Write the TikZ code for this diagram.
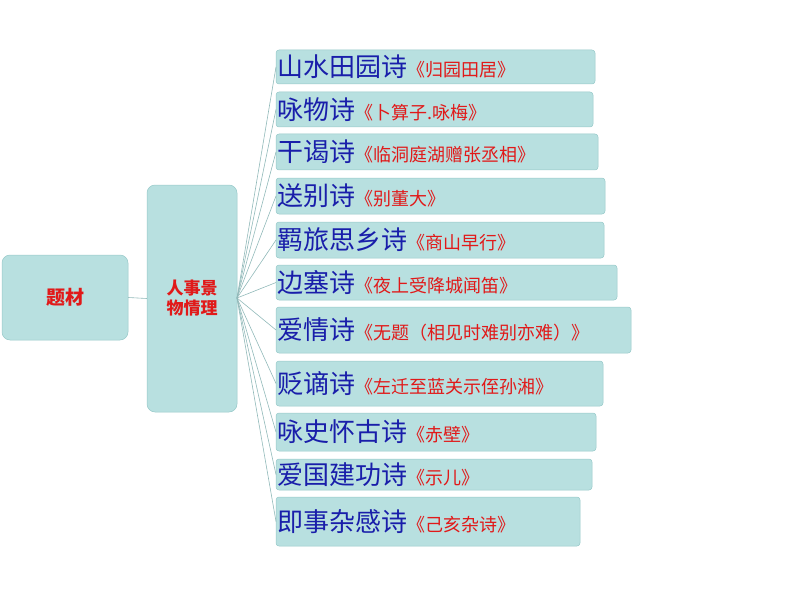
\documentclass[tikz,border=0pt]{standalone}
\usepackage{fontspec}
\setmainfont{Noto Sans CJK SC}
\definecolor{boxfill}{RGB}{184,224,224}
\definecolor{boxline}{RGB}{150,200,200}
\definecolor{tblue}{RGB}{25,30,170}
\definecolor{tred}{RGB}{225,25,25}
\begin{document}
\begin{tikzpicture}[x=1pt,y=-1pt,
  bx/.style={fill=boxfill,draw=boxline,line width=0.5pt,rounded corners=3pt},
  conn/.style={draw=boxline!80!gray,line width=0.6pt}]
\useasboundingbox (0,0) rectangle (794,596);
\node[bx,minimum width=126pt,minimum height=85pt,font=\bfseries\fontsize{19}{22}\selectfont,text=tred,rounded corners=8pt] (a) at (65,297.5) {题材};
\node[bx,minimum width=90pt,minimum height=227pt,font=\bfseries\fontsize{17}{20}\selectfont,text=tred,align=center,rounded corners=8pt] (b) at (192,298.5) {人事景\\物情理};
\draw[conn] (a.east) -- (b.west);
\foreach \i/\t/\bt/\r/\m/\s in {
 1/50/84/595/山水田园诗/归园田居,
 2/92/127/593/咏物诗/卜算子.咏梅,
 3/134/170/598/干谒诗/临洞庭湖赠张丞相,
 4/178/214/605/送别诗/别董大,
 5/222/258/604/羁旅思乡诗/商山早行,
 6/265/300/617/边塞诗/夜上受降城闻笛,
 7/307/353/631/爱情诗/无题（相见时难别亦难）,
 8/361/406/603/贬谪诗/左迁至蓝关示侄孙湘,
 9/413/451/596/咏史怀古诗/赤壁,
 10/459/490/592/爱国建功诗/示儿,
 11/497/546/580/即事杂感诗/己亥杂诗}{
  \path[bx] (276,\t) rectangle (\r,\bt);
  \node[anchor=west,inner sep=0pt] (n\i) at (277,{(\t+\bt)/2}) {\textcolor{tblue}{\fontsize{26}{28}\selectfont\m}\textcolor{tred}{\fontsize{18}{20}\selectfont《\s》}};
  \coordinate (c\i) at (276,{(\t+\bt)/2});
  \draw[conn] (237,298) -- (c\i);
}
\end{tikzpicture}
\end{document}
